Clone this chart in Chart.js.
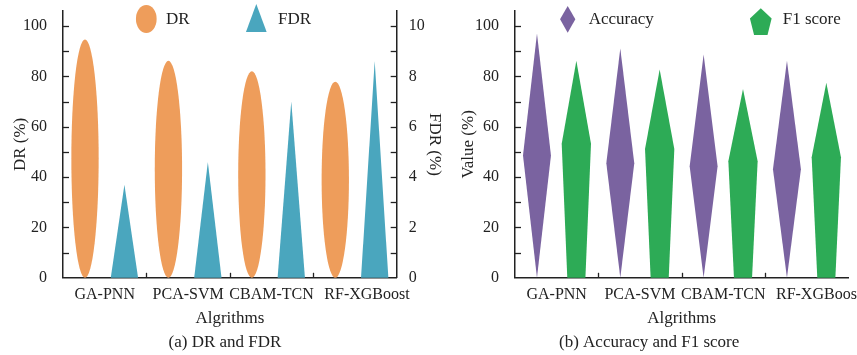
<!DOCTYPE html>
<html><head><meta charset="utf-8">
<script src="https://cdn.jsdelivr.net/npm/chart.js@4/dist/chart.umd.min.js"></script>
<style>
html,body{margin:0;padding:0;background:#fff;width:857px;height:355px;overflow:hidden}
#ca{position:absolute;left:0;top:0}
#cb{position:absolute;left:450px;top:0}
</style></head><body>
<canvas id="ca" width="450" height="355"></canvas>
<canvas id="cb" width="407" height="355"></canvas>
<script>
// ---------- data ----------
const algorithms = ['GA-PNN', 'PCA-SVM', 'CBAM-TCN', 'RF-XGBoost'];
const drValues = [94.7, 86.2, 82.1, 77.9];        // DR (%)
const fdrValues = [3.7, 4.6, 7.0, 8.6];            // FDR (%)
const accuracyValues = [97.1, 91.1, 88.7, 86.2];   // Accuracy (%)
const f1Values = [86.2, 82.8, 75.0, 77.5];         // F1 score (%)

// ---------- styles ----------
const FONT = '"Liberation Serif", "Times New Roman", serif';
const TXT = '#222';
const AXIS = '#222';
const C_DR = '#EE9D5B', C_FDR = '#4AA6BE', C_ACC = '#7A63A0', C_F1 = '#2DAB56';

function drawShape(ctx, shape, color, cx, top, bottom, w) {
  const h = bottom - top;
  ctx.save();
  ctx.fillStyle = color;
  ctx.beginPath();
  if (shape === 'ellipse') {
    ctx.ellipse(cx, (top + bottom) / 2, w / 2, h / 2, 0, 0, Math.PI * 2);
  } else if (shape === 'triangle') {
    ctx.moveTo(cx - w / 2, bottom); ctx.lineTo(cx, top); ctx.lineTo(cx + w / 2, bottom);
  } else if (shape === 'diamond') {
    const m = (top + bottom) / 2;
    ctx.moveTo(cx, top); ctx.lineTo(cx + w / 2, m); ctx.lineTo(cx, bottom); ctx.lineTo(cx - w / 2, m);
  } else if (shape === 'pentagon') {
    const ym = bottom - h * 0.618, bw = w / 2 * 0.618;
    ctx.moveTo(cx, top); ctx.lineTo(cx + w / 2, ym); ctx.lineTo(cx + bw, bottom);
    ctx.lineTo(cx - bw, bottom); ctx.lineTo(cx - w / 2, ym);
  }
  ctx.closePath();
  ctx.fill();
  ctx.restore();
}

const shapePlugin = {
  id: 'shapes',
  afterDatasetsDraw(chart) {
    const ctx = chart.ctx;
    chart.data.datasets.forEach((ds, i) => {
      const meta = chart.getDatasetMeta(i);
      meta.data.forEach(bar => {
        const p = bar.getProps(['x', 'y', 'base', 'width'], true);
        drawShape(ctx, ds.shape, ds.fill, p.x, Math.min(p.y, p.base), Math.max(p.y, p.base), p.width);
      });
    });
  }
};

const tickPlugin = {
  id: 'inTicks',
  afterDraw(chart) {
    const ctx = chart.ctx, a = chart.chartArea;
    ctx.save();
    ctx.strokeStyle = AXIS; ctx.lineWidth = 1.3;
    const line = (x1, y1, x2, y2) => { ctx.beginPath(); ctx.moveTo(x1, y1); ctx.lineTo(x2, y2); ctx.stroke(); };
    Object.values(chart.scales).forEach(s => {
      if (s.axis === 'y') {
        const vals = s.ticks.map(t => t.value);
        const all = [];
        vals.forEach((v, k) => { all.push(v); if (k < vals.length - 1) all.push((v + vals[k + 1]) / 2); });
        const x0 = s.position === 'left' ? a.left : a.right;
        const dir = s.position === 'left' ? 1 : -1;
        all.forEach(v => { if (v === 0) return; const y = Math.round(s.getPixelForValue(v)) + 0.5; line(x0, y, x0 + dir * 6, y); });
      } else {
        for (let k = 0; k < s.ticks.length - 1; k++) {
          const x = Math.round((s.getPixelForValue(k) + s.getPixelForValue(k + 1)) / 2) + 0.5;
          line(x, a.bottom, x, a.bottom - 5);
        }
      }
    });
    ctx.restore();
  }
};

const legendPlugin = {
  id: 'shapeLegend',
  afterDraw(chart, args, opts) {
    const ctx = chart.ctx, a = chart.chartArea;
    chart.data.datasets.forEach((ds, i) => {
      const it = opts.items[i];
      const cx = a.left + it.dx;
      drawShape(ctx, ds.shape, ds.fill, cx, it.top, it.top + it.h, it.w);
      ctx.save();
      ctx.fillStyle = TXT; ctx.font = '17px ' + FONT;
      ctx.textBaseline = 'middle'; ctx.textAlign = 'left';
      ctx.fillText(ds.label, cx + it.tx, 20);
      ctx.restore();
    });
  }
};

function zeroPad(s) { s.paddingTop = 0; s.paddingBottom = 0; s.paddingLeft = 0; s.paddingRight = 0; }

function xScale(titleText, lastPad) {
  return {
    type: 'category',
    grid: { display: false },
    border: { display: true, color: AXIS, width: 1.5 },
    ticks: {
      color: TXT, font: { family: FONT, size: 16 }, padding: -1, maxRotation: 0, autoSkip: false,
      callback(v, i) { const l = this.getLabelForValue(v); return i === algorithms.length - 1 ? ' '.repeat(lastPad) + l : l; }
    },
    title: { display: true, text: titleText, color: TXT, font: { family: FONT, size: 17 }, padding: { top: 0, bottom: 4 } },
    afterFit(s) { s.height = 54.8; zeroPad(s); }
  };
}
function yScale(pos, max, step, titleText, width, tpad, labPad) {
  return {
    type: 'linear', position: pos, min: 0, max: max,
    grid: { display: false },
    border: { display: true, color: AXIS, width: 1.5 },
    ticks: { stepSize: step, includeBounds: false, color: TXT, font: { family: FONT, size: 16 }, padding: labPad },
    title: { display: true, text: titleText, color: TXT, font: { family: FONT, size: 17 }, padding: { top: tpad, bottom: 0 } },
    afterFit(s) { s.width = width; zeroPad(s); }
  };
}
function titleOpt(text) {
  return { display: true, position: 'bottom', text: text, color: TXT, font: { family: FONT, size: 17, weight: 'normal' }, padding: { top: 0, bottom: 2 } };
}

Chart.defaults.animation = false;

new Chart(document.getElementById('ca'), {
  type: 'bar',
  data: {
    labels: algorithms,
    datasets: [
      { label: 'DR', data: drValues, yAxisID: 'y', shape: 'ellipse', fill: C_DR, backgroundColor: 'rgba(0,0,0,0)', borderWidth: 0, categoryPercentage: 0.945, barPercentage: 0.693 },
      { label: 'FDR', data: fdrValues, yAxisID: 'y1', shape: 'triangle', fill: C_FDR, backgroundColor: 'rgba(0,0,0,0)', borderWidth: 0, categoryPercentage: 0.945, barPercentage: 0.693 }
    ]
  },
  options: {
    responsive: false, devicePixelRatio: 1,
    layout: { autoPadding: false, padding: { top: 11, left: 0, right: 0, bottom: 0 } },
    scales: {
      x: xScale('Algrithms', 6),
      y: yScale('left', 106, 20, 'DR (%)', 63, 10, 8),
      y1: yScale('right', 10.6, 2, 'FDR (%)', 53.3, 5, 4)
    },
    plugins: {
      legend: { display: false }, tooltip: { enabled: false },
      title: titleOpt('(a) DR and FDR'),
      shapeLegend: { items: [
        { dx: 83.3, w: 20.7, h: 28, top: 5, tx: 19.7 },
        { dx: 193.3, w: 20.7, h: 28, top: 4, tx: 21.7 }
      ] }
    }
  },
  plugins: [shapePlugin, tickPlugin, legendPlugin]
});

new Chart(document.getElementById('cb'), {
  type: 'bar',
  data: {
    labels: algorithms,
    datasets: [
      { label: 'Accuracy', data: accuracyValues, shape: 'diamond', fill: C_ACC, backgroundColor: 'rgba(0,0,0,0)', borderWidth: 0, categoryPercentage: 0.945, barPercentage: 0.71 },
      { label: 'F1 score', data: f1Values, shape: 'pentagon', fill: C_F1, backgroundColor: 'rgba(0,0,0,0)', borderWidth: 0, categoryPercentage: 0.945, barPercentage: 0.744 }
    ]
  },
  options: {
    responsive: false, devicePixelRatio: 1,
    layout: { autoPadding: false, padding: { top: 11, left: 0, right: 8.7, bottom: 0 } },
    scales: {
      x: xScale('Algrithms', 6),
      y: yScale('left', 106, 20, 'Value (%)', 65, 8, 8)
    },
    plugins: {
      legend: { display: false }, tooltip: { enabled: false },
      title: titleOpt('(b) Accuracy and F1 score'),
      shapeLegend: { items: [
        { dx: 52.7, w: 15.3, h: 26.7, top: 6, tx: 21 },
        { dx: 245.8, w: 21.7, h: 26.7, top: 8.3, tx: 21.9 }
      ] }
    }
  },
  plugins: [shapePlugin, tickPlugin, legendPlugin]
});
</script>
</body></html>
